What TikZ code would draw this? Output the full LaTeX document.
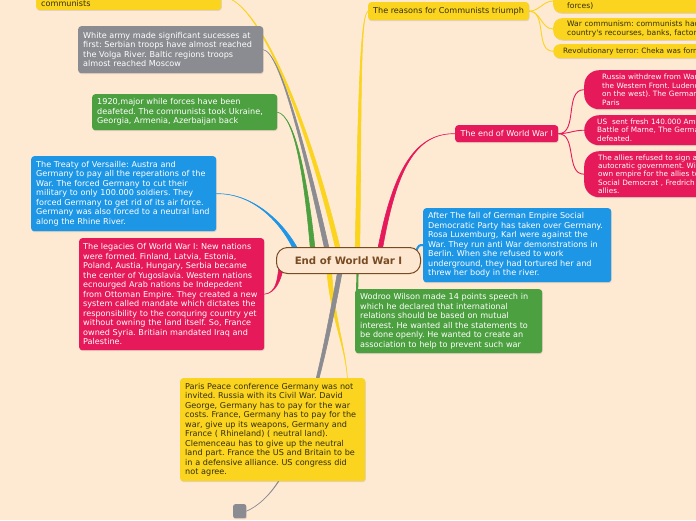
\documentclass[tikz,border=0pt]{standalone}
\usepackage{fontspec}
\newfontfamily\mapfont{DejaVu Sans}
\usetikzlibrary{shadows,backgrounds,calc}
\definecolor{mapbg}{RGB}{254,233,211}
\definecolor{rootfill}{RGB}{253,231,208}
\definecolor{mapbrown}{RGB}{120,75,35}
\definecolor{mapyellow}{RGB}{250,212,30}
\definecolor{mapgray}{RGB}{139,140,145}
\definecolor{mapgreen}{RGB}{76,160,64}
\definecolor{mapblue}{RGB}{30,150,230}
\definecolor{mappink}{RGB}{230,25,90}
\definecolor{darktext}{RGB}{51,45,20}
\newcommand{\notefont}[2]{\mapfont\frenchspacing\hyphenpenalty=10000\exhyphenpenalty=10000\fontsize{#1}{#2}\selectfont}
% tapered branch: colour, leaf end, control 1, control 2, root end
\newcommand{\taper}[5]{%
  \filldraw[#1, line width=0.6pt, line join=round] #2 .. controls #3 and ($#4+(1.6,0)$) .. ($#5+(2.3,0)$)
    -- ($#5+(-2.3,0)$) .. controls ($#4+(-1.6,0)$) and #3 .. #2 -- cycle;}

\begin{document}
\begin{tikzpicture}[x=1pt, y=-1pt,
    note/.style={rectangle, rounded corners=3pt, anchor=north west, align=left, inner xsep=5pt, inner ysep=3pt,
        font=\notefont{8.1}{9.5},
        drop shadow={shadow xshift=0.6pt, shadow yshift=-1pt, opacity=0.22}},
    leaf/.style={note, font=\notefont{7.3}{8.4}},
    yellowbox/.style={fill=mapyellow, text=darktext},
    graybox/.style={fill=mapgray, text=white},
    greenbox/.style={fill=mapgreen, text=white},
    bluebox/.style={fill=mapblue, text=white},
    pinkbox/.style={fill=mappink, text=white},
    branch/.style={line width=2.1pt, line cap=round},
    twig/.style={line width=0.9pt}
]
\useasboundingbox (0,0) rectangle (696,520);

% central topic
\node[rectangle, rounded corners=11pt, draw=mapbrown, line width=1pt, fill=rootfill, anchor=north west,
    minimum width=144pt, minimum height=26pt, inner sep=0pt, text=mapbrown,
    font=\mapfont\bfseries\fontsize{10.2}{12}\selectfont] (root) at (276,247) {End of World War I};

% left side
\node[note, yellowbox, text width=175pt, anchor=south west] (comm) at (36,10) {\mbox{}\\\mbox{}\\communists};
\node[note, graybox, text width=175pt, minimum height=47pt] (whitearmy) at (78,26)
    {White army made significant sucesses at\\first: Serbian troops have almost reached\\the Volga River. Baltic regions troops\\almost reached Moscow};
\node[note, greenbox, text width=175pt, minimum height=36pt] (nineteen) at (92,94)
    {1920,major while forces have been\\deafeted. The communists took Ukraine,\\Georgia, Armenia, Azerbaijan back};
\node[note, bluebox, text width=175pt, minimum height=75pt] (treaty) at (31,156)
    {The Treaty of Versaille: Austra and\\Germany to pay all the reperations of the\\War. The forced Germany to cut their\\military to only 100.000 soldiers. They\\forced Germany to get rid of its air force.\\Germany was also forced to a neutral land\\along the Rhine River.};
\node[note, pinkbox, text width=177pt, inner xsep=4pt, minimum height=112pt] (legacies) at (79,238)
    {The legacies Of World War I: New nations\\were formed. Finland, Latvia, Estonia,\\Poland, Austia, Hungary, Serbia became\\the center of Yugoslavia. Western nations\\ecnourged Arab nations be Indepedent\\from Ottoman Empire. They created a new\\system called mandate which dictates the\\responsibility to the conquring country yet\\without owning the land itself. So, France\\owned Syria. Britiain mandated Iraq and\\Palestine.};
\node[note, yellowbox, text width=175pt, minimum height=103pt] (paris) at (180,378)
    {Paris Peace conference Germany was not\\invited. Russia with its Civil War. David\\George, Germany has to pay for the war\\costs. France, Germany has to pay for the\\war, give up its weapons, Germany and\\France ( Rhineland) ( neutral land).\\Clemenceau has to give up the neutral\\land part. France the US and Britain to be\\in a defensive alliance. US congress did\\not agree.};
\node[note, graybox, rounded corners=2pt, minimum width=13pt, minimum height=14pt, inner sep=0pt] (stub) at (233,504) {};

% right side
\node[note, yellowbox, minimum width=159pt, minimum height=18pt, align=center] (reasons) at (368,2) {The reasons for Communists triumph};
\node[leaf, yellowbox, rounded corners=8pt, inner xsep=14pt, text width=170pt, anchor=south west,
    font=\notefont{7.6}{8.2}] (forces) at (553,13) {\mbox{}\\\mbox{}\\forces)};
\node[leaf, yellowbox, rounded corners=9pt, inner xsep=14pt, text width=170pt, minimum height=21pt,
    font=\notefont{7.6}{8.2}] (warcomm) at (553,18)
    {War communism: communists had a\\country's recourses, banks, factories};
\node[leaf, yellowbox, rounded corners=7pt, inner xsep=10pt, text width=170pt, minimum height=14pt] (terror) at (553,44)
    {Revolutionary terror: Cheka was form};

\node[note, pinkbox, minimum width=103pt, minimum height=17pt, align=center] (endwar) at (455,125) {The end of World War I};
\node[leaf, pinkbox, rounded corners=15pt, inner xsep=18pt, text width=150pt, minimum height=39pt] (russia) at (584,70)
    {Russia withdrew from War.\\the Western Front. Ludend\\on the west). The German\\Paris};
\node[leaf, pinkbox, rounded corners=15pt, inner xsep=13pt, text width=150pt, minimum height=30pt] (marne) at (584,115)
    {US\ \ sent fresh 140.000 Ame\\Battle of Marne, The Germa\\defeated.};
\node[leaf, pinkbox, rounded corners=15pt, inner xsep=14pt, text width=150pt, minimum height=46pt] (allies) at (584,151)
    {The allies refused to sign an\\autocratic government. Will\\own empire for the allies to\\Social Democrat , Fredrich E\\allies.};

\node[note, bluebox, text width=178pt, minimum height=74pt] (after) at (423,208)
    {After The fall of German Empire Social\\Democratic Party has taken over Germany.\\Rosa Luxemburg, Karl were against the\\War. They run anti War demonstrations in\\Berlin. When she refused to work\\underground, they had tortured her and\\threw her body in the river.};
\node[note, greenbox, text width=177pt, minimum height=64pt] (wilson) at (355,289)
    {Wodroo Wilson made 14 points speech in\\which he declared that international\\relations should be based on mutual\\interest. He wanted all the statements to\\be done openly. He wanted to create an\\association to help to prevent such war};

\begin{pgfonlayer}{background}
\fill[mapbg] (0,0) rectangle (696,520);

% branches to the left
\taper{mapyellow}{(comm.east)}{(255,-6)}{(305,110)}{([xshift=-11pt]root.north)}
\taper{mapgray}{(whitearmy.east)}{(280,52)}{(305,150)}{([xshift=-22pt]root.north)}
\taper{mapgreen}{(nineteen.east)}{(295,115)}{(306,180)}{([xshift=-36pt]root.north)}
\taper{mapblue}{(treaty.east)}{(255,193)}{(283,225)}{([xshift=-54pt]root.north)}
\taper{mappink}{(legacies.east)}{(276,293)}{(279,280)}{([xshift=5pt,yshift=-8pt]root.west)}

% branches below
\taper{mapyellow}{([xshift=-18pt]paris.north east)}{(345,345)}{(333,320)}{([xshift=-19pt]root.south)}
\taper{mapgray}{(stub.east)}{(295,490)}{(318,390)}{([xshift=-9pt]root.south)}
\draw[branch, mapgreen] ([xshift=9pt]root.south) -- ([xshift=2pt,yshift=-6pt]wilson.north west);

% branches to the right
\taper{mapyellow}{(reasons.west)}{(360,15)}{(360,100)}{([xshift=9pt]root.north)}
\taper{mappink}{(endwar.west)}{(415,133)}{(395,170)}{([xshift=32pt]root.north)}
\draw[branch, mapblue] ([xshift=-5pt,yshift=-4pt]root.north east) .. controls (419,245) .. (after.west);

% sub topics
\draw[twig, mapyellow] (reasons.east) to[out=0, in=180] (forces.west);
\draw[twig, mapyellow] (reasons.east) to[out=0, in=180] (warcomm.west);
\draw[twig, mapyellow] (reasons.east) to[out=0, in=180] (terror.west);
\draw[twig, mappink] (endwar.east) to[out=0, in=180] (russia.west);
\draw[twig, mappink] (endwar.east) to[out=0, in=180] (marne.west);
\draw[twig, mappink] (endwar.east) to[out=0, in=180] (allies.west);
\end{pgfonlayer}
\end{tikzpicture}
\end{document}
